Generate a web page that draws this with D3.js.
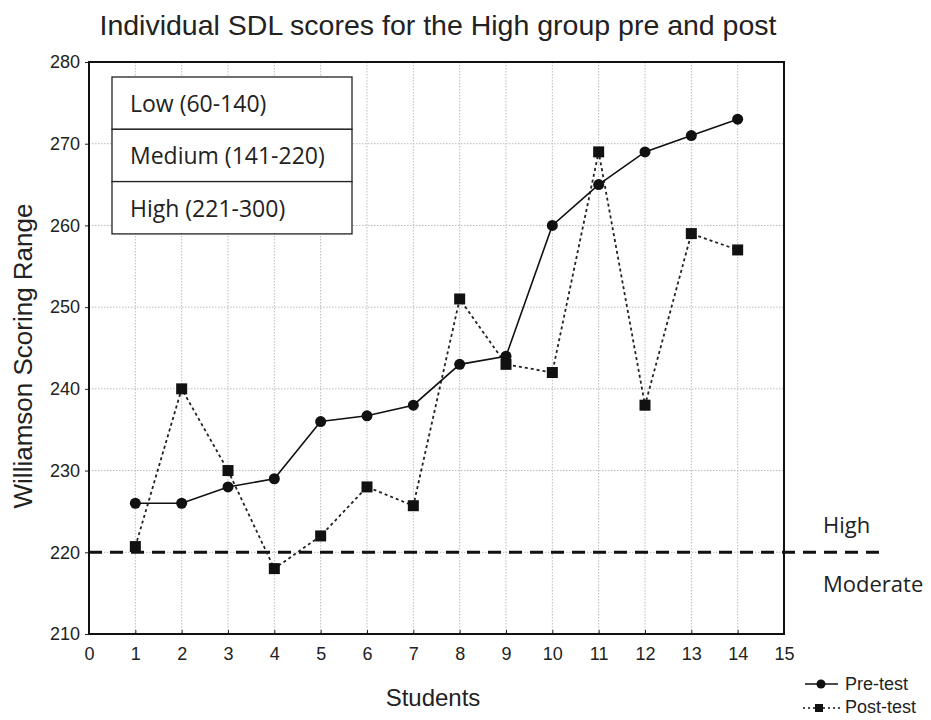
<!DOCTYPE html>
<html><head><meta charset="utf-8">
<script src="https://cdn.jsdelivr.net/npm/d3@7/dist/d3.min.js"></script>
<style>body{margin:0;background:#fff}</style>
</head><body>
<svg id="c" width="931" height="720"></svg>
<script>
const students = [1,2,3,4,5,6,7,8,9,10,11,12,13,14];
const preTest  = [226,226,228,229,236,236.7,238,243,244,260,265,269,271,273];
const postTest = [220.7,240,230,218,222,228,225.7,251,243,242,269,238,259,257];
const xTicks = d3.range(0,16);
const yTicks = [210,220,230,240,250,260,270,280];
const rangeLabels = ["Low (60-140)","Medium (141-220)","High (221-300)"];
const threshold = 220;
const seriesNames = ["Pre-test","Post-test"];

const svg = d3.select("#c");
const L=89,R=784,T=62,B=634;
const x = d3.scaleLinear().domain([0,15]).range([L,R]);
const y = d3.scaleLinear().domain([210,280]).range([B,T]);
const sans = "Liberation Sans, Arial";
const cal = "Open Sans, Lato, sans-serif";

svg.append("text").attr("x",438).attr("y",35).attr("text-anchor","middle")
  .attr("font-family",sans).attr("font-size",28.5).attr("fill","#222")
  .text("Individual SDL scores for the High group pre and post");

// grid
const g = svg.append("g");
g.selectAll(".vg").data(students).enter().append("line")
  .attr("x1",d=>x(d)).attr("x2",d=>x(d)).attr("y1",T).attr("y2",B)
  .attr("stroke","#bbb").attr("stroke-width",1).attr("stroke-dasharray","1.5,1.5");
g.selectAll(".hg").data(yTicks.slice(1,-1)).enter().append("line")
  .attr("x1",L).attr("x2",R).attr("y1",d=>y(d)).attr("y2",d=>y(d))
  .attr("stroke","#bbb").attr("stroke-width",1).attr("stroke-dasharray","1.5,1.5");

// axes
const xa = svg.append("g").attr("transform",`translate(0,${B})`)
  .call(d3.axisBottom(x).tickValues(xTicks).tickSize(-4).tickPadding(13).tickFormat(d3.format("d")));
const ya = svg.append("g").attr("transform",`translate(${L},0)`)
  .call(d3.axisLeft(y).tickValues(yTicks).tickSize(4).tickPadding(5).tickFormat(d3.format("d")));
[xa,ya].forEach(a=>{
  a.select(".domain").remove();
  a.selectAll("text").attr("font-family",sans).attr("font-size",18).attr("fill","#222");
  a.selectAll("line").attr("stroke","#222");
});
svg.append("rect").attr("x",L).attr("y",T).attr("width",R-L).attr("height",B-T)
  .attr("fill","none").attr("stroke","#111").attr("stroke-width",2);

// axis titles
svg.append("text").attr("transform","translate(32,356) rotate(-90)").attr("text-anchor","middle")
  .attr("font-family",sans).attr("font-size",26).attr("fill","#222")
  .text("Williamson Scoring Range");
svg.append("text").attr("x",433).attr("y",706).attr("text-anchor","middle")
  .attr("font-family",sans).attr("font-size",24).attr("fill","#222")
  .text("Students");

// threshold line
svg.append("line").attr("x1",L).attr("x2",880).attr("y1",y(threshold)).attr("y2",y(threshold))
  .attr("stroke","#111").attr("stroke-width",3).attr("stroke-dasharray","13,8");
svg.append("text").attr("x",823).attr("y",533).attr("font-family",cal)
  .attr("font-size",22).attr("fill","#222").text("High");
svg.append("text").attr("x",823).attr("y",592).attr("font-family",cal)
  .attr("font-size",22).attr("fill","#222").text("Moderate");

// range box
const bx=112, bw=240, bt=77, bh=52.3;
const box = svg.append("g");
box.selectAll("rect").data(rangeLabels).enter().append("rect")
  .attr("x",bx).attr("y",(d,i)=>bt+i*bh).attr("width",bw).attr("height",bh)
  .attr("fill","#fff").attr("stroke","#222").attr("stroke-width",1.3);
box.selectAll("text").data(rangeLabels).enter().append("text")
  .attr("x",bx+18).attr("y",(d,i)=>bt+i*bh+35)
  .attr("font-family",cal).attr("font-size",23).attr("fill","#222")
  .text(d=>d);

// series
const line = d3.line().x((d,i)=>x(students[i])).y(d=>y(d));
svg.append("path").attr("d",line(postTest)).attr("fill","none").attr("stroke","#222")
  .attr("stroke-width",1.8).attr("stroke-dasharray","3,3");
svg.append("path").attr("d",line(preTest)).attr("fill","none").attr("stroke","#111")
  .attr("stroke-width",1.6);
svg.selectAll(".pre").data(preTest).enter().append("circle")
  .attr("cx",(d,i)=>x(students[i])).attr("cy",d=>y(d)).attr("r",5.5).attr("fill","#111");
svg.selectAll(".post").data(postTest).enter().append("rect")
  .attr("x",(d,i)=>x(students[i])-5.5).attr("y",d=>y(d)-5.5).attr("width",11).attr("height",11).attr("fill","#111");

// legend
const lg = svg.append("g");
lg.append("line").attr("x1",805).attr("x2",838).attr("y1",684).attr("y2",684).attr("stroke","#111").attr("stroke-width",1.5);
lg.append("circle").attr("cx",821).attr("cy",684).attr("r",4.5).attr("fill","#111");
lg.append("line").attr("x1",803).attr("x2",840).attr("y1",708).attr("y2",708).attr("stroke","#111").attr("stroke-width",1.5).attr("stroke-dasharray","2,3");
lg.append("rect").attr("x",815).attr("y",704).attr("width",8).attr("height",8).attr("fill","#111");
lg.selectAll("text").data(seriesNames).enter().append("text")
  .attr("x",845).attr("y",(d,i)=>690+i*23).attr("font-family",sans)
  .attr("font-size",18).attr("fill","#222").text(d=>d);
</script>
</body></html>
